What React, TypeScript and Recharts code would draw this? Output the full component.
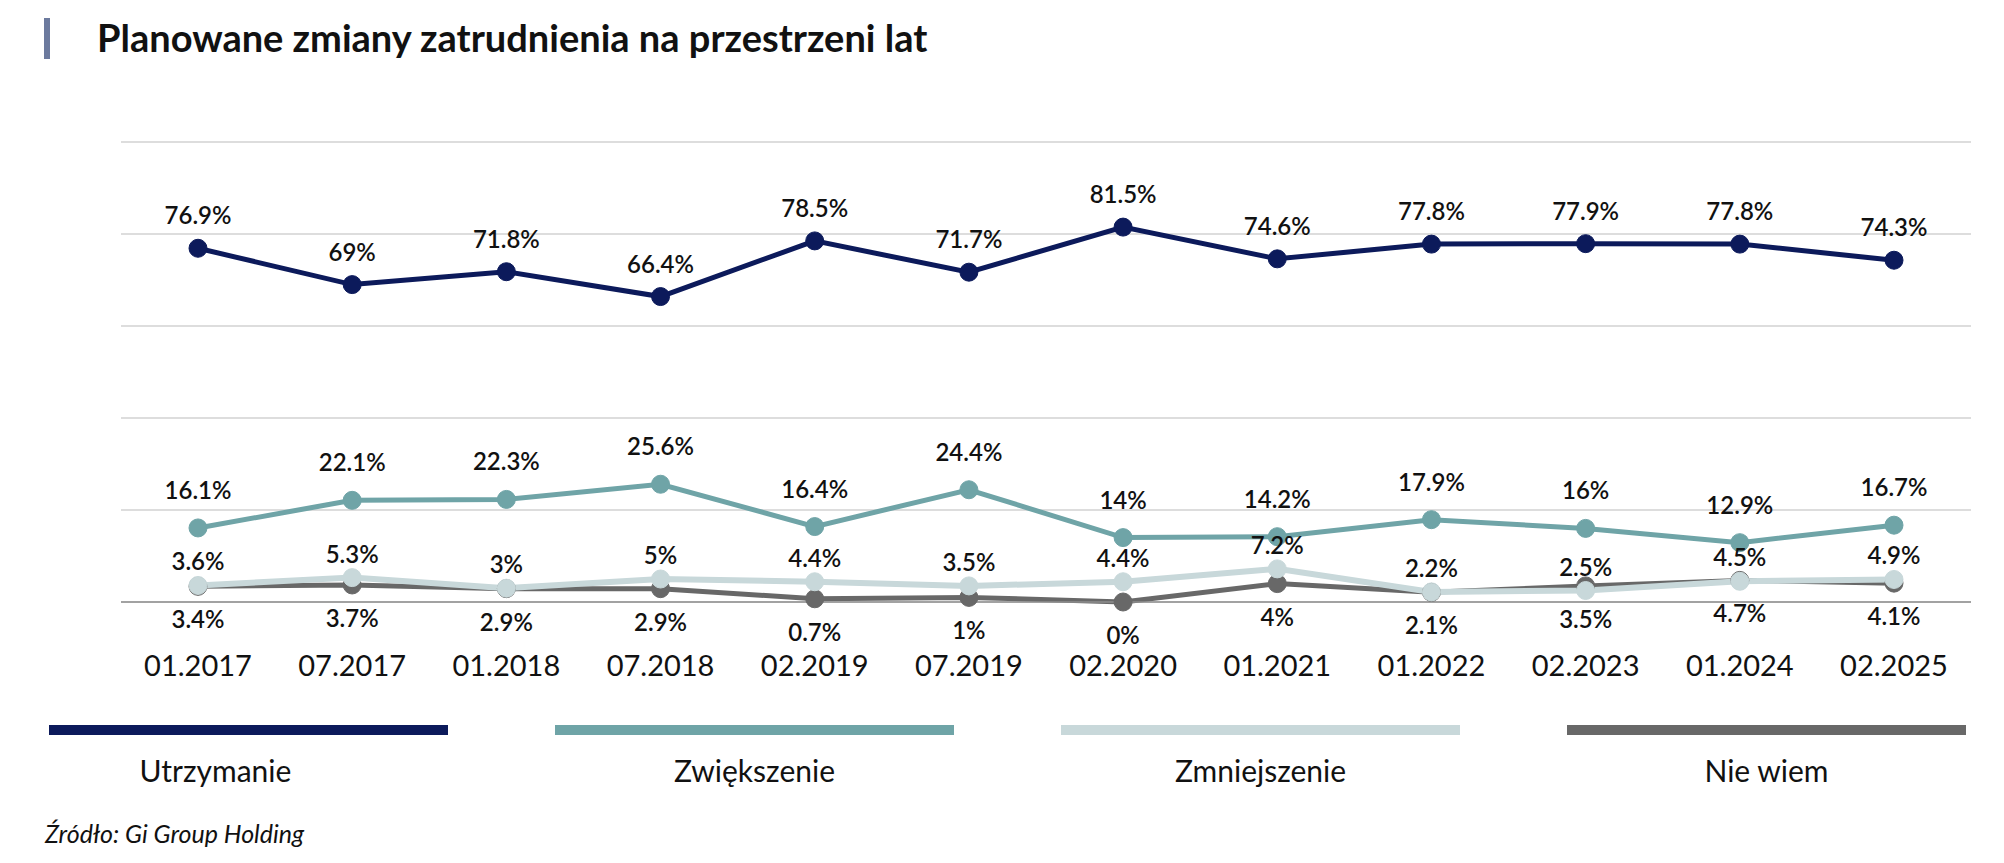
import React from 'react';
import { LineChart, Line, XAxis, YAxis, CartesianGrid, LabelList } from 'recharts';

const periods = ['01.2017', '07.2017', '01.2018', '07.2018', '02.2019', '07.2019', '02.2020', '01.2021', '01.2022', '02.2023', '01.2024', '02.2025'];
const utrzymanie = [76.9, 69, 71.8, 66.4, 78.5, 71.7, 81.5, 74.6, 77.8, 77.9, 77.8, 74.3];
const zwiekszenie = [16.1, 22.1, 22.3, 25.6, 16.4, 24.4, 14, 14.2, 17.9, 16, 12.9, 16.7];
const zmniejszenie = [3.6, 5.3, 3, 5, 4.4, 3.5, 4.4, 7.2, 2.2, 2.5, 4.5, 4.9];
const nieWiem = [3.4, 3.7, 2.9, 2.9, 0.7, 1, 0, 4, 2.1, 3.5, 4.7, 4.1];
const yTicks = [0, 20, 40, 60, 80, 100];

const legendItems = [
  { name: 'Utrzymanie', color: '#0c1a5b' },
  { name: 'Zwiększenie', color: '#6fa4a7' },
  { name: 'Zmniejszenie', color: '#c8d8da' },
  { name: 'Nie wiem', color: '#686868' },
];

const data = periods.map((p, i) => ({
  name: p,
  utrzymanie: utrzymanie[i],
  zwiekszenie: zwiekszenie[i],
  zmniejszenie: zmniejszenie[i],
  nieWiem: nieWiem[i],
}));

const font = 'Lato, "Open Sans", sans-serif';
const pct = (v: any) => `${v}%`;
const labelStyle = { fontSize: 24, fontFamily: font, fontWeight: 600, fill: '#111' };

const renderTick = (props: any) => (
  <text x={props.x} y={props.y} dy={62} textAnchor="middle" dominantBaseline="central"
    fontSize={29} fontFamily={font} fill="#111">
    {props.payload.value}
  </text>
);

export default function App() {
  return (
    <div style={{ position: 'absolute', left: 0, top: 0, width: 2004, height: 863, background: '#fff', fontFamily: font }}>
      <div style={{ position: 'absolute', left: 44, top: 18, width: 6, height: 41, background: '#6c7a9e' }} />
      <div style={{ position: 'absolute', left: 97, top: 14, fontSize: 38, fontWeight: 700, color: '#111', lineHeight: '46px' }}>
        Planowane zmiany zatrudnienia na przestrzeni lat
      </div>

      <div style={{ position: 'absolute', left: 0, top: 0 }}>
        <LineChart width={2004} height={700} data={data} margin={{ top: 142, right: 33, bottom: 0, left: 121 }}>
          <CartesianGrid vertical={false} stroke="#d2d2d2" strokeWidth={1.5} />
          <XAxis dataKey="name" height={98} padding={{ left: 77, right: 77 }} axisLine={{ stroke: '#8e8e8e', strokeWidth: 1.5 }}
            tickLine={false} tickSize={0} tickMargin={0} tick={renderTick} interval={0} />
          <YAxis hide domain={[0, 100]} ticks={yTicks} />
          <Line dataKey="utrzymanie" stroke="#0c1a5b" strokeWidth={5} isAnimationActive={false}
            dot={{ r: 9, fill: '#0c1a5b', stroke: '#0c1a5b', strokeWidth: 1 }} activeDot={false}>
            <LabelList dataKey="utrzymanie" position="top" offset={24} formatter={pct} style={labelStyle} />
          </Line>
          <Line dataKey="zwiekszenie" stroke="#6fa4a7" strokeWidth={5} isAnimationActive={false}
            dot={{ r: 9, fill: '#6fa4a7', stroke: '#6fa4a7', strokeWidth: 1 }} activeDot={false}>
            <LabelList dataKey="zwiekszenie" position="top" offset={29} formatter={pct} style={labelStyle} />
          </Line>
          <Line dataKey="nieWiem" stroke="#686868" strokeWidth={5} isAnimationActive={false}
            dot={{ r: 9, fill: '#686868', stroke: '#686868', strokeWidth: 1 }} activeDot={false}>
            <LabelList dataKey="nieWiem" position="bottom" offset={25} formatter={pct} style={labelStyle} />
          </Line>
          <Line dataKey="zmniejszenie" stroke="#c8d8da" strokeWidth={6} isAnimationActive={false}
            dot={{ r: 9, fill: '#c8d8da', stroke: '#c8d8da', strokeWidth: 1 }} activeDot={false}>
            <LabelList dataKey="zmniejszenie" position="top" offset={15} formatter={pct} style={labelStyle} />
          </Line>
        </LineChart>
      </div>

      {legendItems.map((item, i) => (
        <div key={item.name} style={{ position: 'absolute', left: 49 + i * 506, top: 725, width: 399 }}>
          <div style={{ height: 10, background: item.color }} />
          <div style={{ textAlign: 'center', fontSize: 30, color: '#111', marginTop: 18, lineHeight: '34px',
            marginLeft: i === 0 ? -66 : 0 }}>
            {item.name}
          </div>
        </div>
      ))}

      <div style={{ position: 'absolute', left: 45, top: 818, fontSize: 25, fontStyle: 'italic', color: '#111', lineHeight: '30px' }}>
        Źródło: Gi Group Holding
      </div>
    </div>
  );
}
